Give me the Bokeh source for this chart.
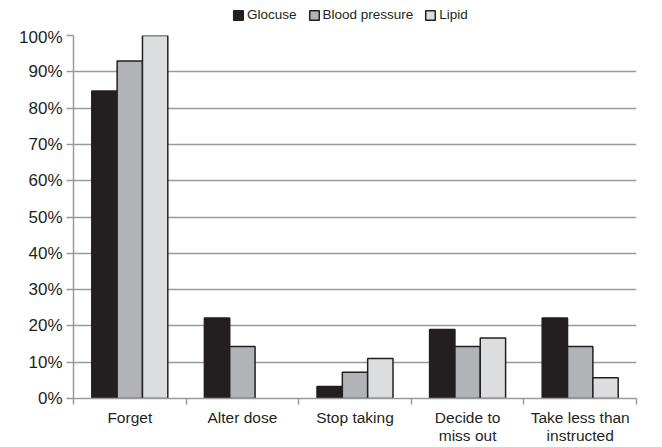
import numpy as np
from bokeh.plotting import figure
from bokeh.layouts import column
from bokeh.models import ColumnDataSource, FixedTicker, Legend, LegendItem, Range1d
from bokeh.embed import file_html
from bokeh.resources import INLINE

categories = ["Forget", "Alter dose", "Stop taking", "Decide to\nmiss out", "Take less than\ninstructed"]
series_names = ["Glocuse", "Blood pressure", "Lipid"]
glucose = [84.7, 22.2, 3.3, 19.0, 22.2]
blood_pressure = [93.0, 14.3, 7.2, 14.3, 14.3]
lipid = [100.0, 0.0, 11.0, 16.7, 5.7]
y_ticks = [0, 10, 20, 30, 40, 50, 60, 70, 80, 90, 100]

colors = ["#231f20", "#b1b3b6", "#dcdddf"]
FONT = "Liberation Sans"

p = figure(width=662, height=420, output_backend="svg", toolbar_location=None,
           x_range=Range1d(0, len(categories)), y_range=Range1d(0, 100),
           min_border_left=73, min_border_right=26, min_border_top=8, min_border_bottom=46)
p.outline_line_color = None
p.background_fill_color = "white"

width = 0.225
offsets = [-0.225, 0.0, 0.225]
for vals, off, col in zip([glucose, blood_pressure, lipid], offsets, colors):
    xs = [i + 0.5 + off for i, v in enumerate(vals) if v > 0]
    tops = [v for v in vals if v > 0]
    src = ColumnDataSource(dict(x=xs, top=tops))
    p.vbar(x="x", top="top", width=width, bottom=0, source=src,
           fill_color=col, line_color="#231f20", line_width=1.5)

# x axis: tick marks at category boundaries, labels at centres
p.xaxis.ticker = FixedTicker(ticks=[i + 0.5 for i in range(len(categories))],
                             minor_ticks=list(range(len(categories) + 1)))
p.xaxis.major_label_overrides = {i + 0.5: c for i, c in enumerate(categories)}
p.xaxis.major_tick_out = 0
p.xaxis.major_tick_in = 0
p.xaxis.minor_tick_out = 6
p.xaxis.minor_tick_in = 0
p.xaxis.minor_tick_line_color = "#9a9a9a"
p.xaxis.minor_tick_line_width = 1.5
p.xaxis.axis_line_color = "#9a9a9a"
p.xaxis.axis_line_width = 1.5
p.xaxis.major_label_text_font = FONT
p.xaxis.major_label_text_font_size = "15.5px"
p.xaxis.major_label_text_color = "#231f20"
p.xaxis.major_label_text_line_height = 1.1
p.xaxis.major_label_standoff = 4
p.xgrid.grid_line_color = None

p.yaxis.ticker = FixedTicker(ticks=y_ticks)
p.yaxis.major_label_overrides = {t: f"{t}%" for t in y_ticks}
p.yaxis.major_tick_out = 7
p.yaxis.major_tick_in = 0
p.yaxis.minor_tick_line_color = None
p.yaxis.major_tick_line_color = "#9a9a9a"
p.yaxis.major_tick_line_width = 1.5
p.yaxis.axis_line_color = "#9a9a9a"
p.yaxis.axis_line_width = 1.5
p.yaxis.major_label_text_font = FONT
p.yaxis.major_label_text_font_size = "17px"
p.yaxis.major_label_text_color = "#231f20"
p.yaxis.major_label_standoff = 4
p.ygrid.grid_line_color = "#9a9a9a"
p.ygrid.grid_line_width = 1.5

# legend strip above the chart (swatch renderers have no drawable position)
lg = figure(width=662, height=27, output_backend="svg", toolbar_location=None,
            x_axis_type=None, y_axis_type=None, min_border=0,
            x_range=Range1d(0, 1), y_range=Range1d(0, 1))
lg.outline_line_color = None
lg.grid.visible = False
items = []
for name, col in zip(series_names, colors):
    src = ColumnDataSource(dict(x=np.array([np.nan]), top=np.array([np.nan])))
    r = lg.vbar(x="x", top="top", bottom=0, width=0.1, source=src,
                fill_color=col, line_color="#231f20", line_width=1.5)
    items.append(LegendItem(label=name, renderers=[r]))
legend = Legend(items=items, orientation="horizontal", location=(159, 5),
                label_text_font=FONT, label_text_font_size="13.5px", label_text_color="#231f20",
                glyph_width=12, glyph_height=12, label_standoff=3, spacing=11,
                padding=0, margin=0, border_line_color=None, background_fill_alpha=0,
                label_height=12)
lg.add_layout(legend)

layout = column(lg, p, spacing=0)
open("out.html", "w").write(file_html(layout, INLINE))
